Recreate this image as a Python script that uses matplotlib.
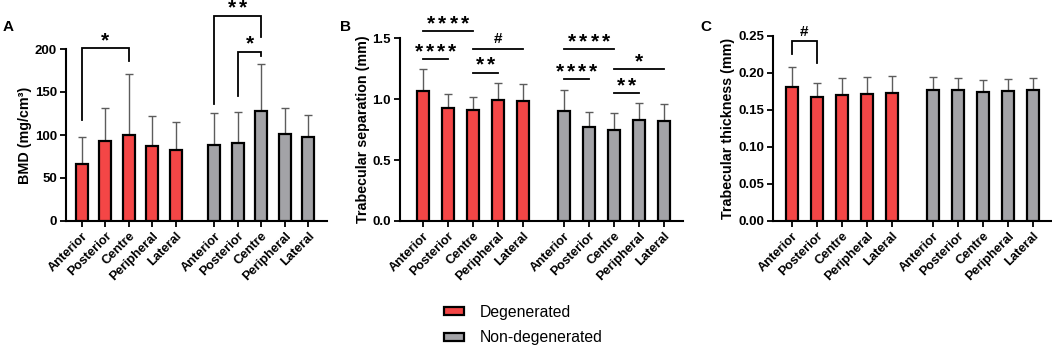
import numpy as np
import matplotlib
matplotlib.use("Agg")
import matplotlib.pyplot as plt
from matplotlib.patches import Patch

plt.rcParams['font.family'] = ['Liberation Sans', 'DejaVu Sans']

# ---------------- data ----------------
regions = ['Anterior', 'Posterior', 'Centre', 'Peripheral', 'Lateral']
groups = ['Degenerated', 'Non-degenerated']

bmd_deg = [66.5, 92.5, 100.0, 87.0, 83.0]
bmd_deg_sd = [31.5, 39.0, 71.0, 35.0, 32.5]
bmd_non = [88.0, 91.0, 128.0, 101.5, 97.5]
bmd_non_sd = [38.0, 35.5, 55.0, 29.5, 26.0]

tbsp_deg = [1.071, 0.928, 0.911, 0.994, 0.983]
tbsp_deg_sd = [0.173, 0.118, 0.105, 0.143, 0.140]
tbsp_non = [0.906, 0.768, 0.751, 0.826, 0.817]
tbsp_non_sd = [0.173, 0.124, 0.135, 0.143, 0.141]

tbth_deg = [0.1808, 0.1676, 0.1700, 0.1720, 0.1735]
tbth_deg_sd = [0.0278, 0.0186, 0.0226, 0.0224, 0.0223]
tbth_non = [0.1776, 0.1776, 0.1740, 0.1760, 0.1770]
tbth_non_sd = [0.0168, 0.0154, 0.0160, 0.0157, 0.0156]

# significance: (group, i, j, y_top, y_left_leg, y_right_leg, label)
sig_bmd = [(0, 0, 2, 200.8, 117.7, 186.0, '*'),
           (1, 0, 2, 238.8, 136.0, 213.6, '**'),
           (1, 1, 2, 197.0, 145.0, 191.5, '*')]
# (group, i, j, y, label) horizontal lines
sig_tbsp = [(0, 0, 2, 1.561, '****'),
            (0, 0, 1, 1.327, '****'),
            (0, 2, 4, 1.412, '#'),
            (0, 2, 3, 1.217, '**'),
            (1, 0, 2, 1.409, '****'),
            (1, 0, 1, 1.167, '****'),
            (1, 2, 4, 1.247, '*'),
            (1, 2, 3, 1.049, '**')]
sig_tbth = [(0, 0, 1, 0.2427, 0.2263, 0.2136, '#')]

# ---------------- style ----------------
RED = '#F44646'
GRAY = '#A3A3A7'
ERR = '#5c5c5c'
GAP = 5.64
W = 0.51
LW = 1.6
STAR_FS = 15
STAR_SP = 8.0   # points between star centres
STAR_OFF = -1.5

pos = [np.arange(5) + 0.0, np.arange(5) + GAP]

fig = plt.figure(figsize=(10.52, 3.49), dpi=100)
FW, FH = 1052.0, 349.0

def make_ax(left_px, right_px, top_px, bottom_px=221.0):
    return fig.add_axes([left_px / FW, 1 - bottom_px / FH,
                         (right_px - left_px) / FW, (bottom_px - top_px) / FH])

axA = make_ax(66, 327, 49)
axB = make_ax(400, 683, 38.3)
axC = make_ax(773, 1051, 36)

def draw_bars(ax, deg, deg_sd, non, non_sd):
    for p, vals, sd, col in [(pos[0], deg, deg_sd, RED), (pos[1], non, non_sd, GRAY)]:
        vals = np.asarray(vals); sd = np.asarray(sd)
        ax.errorbar(p, vals, yerr=[np.zeros_like(sd), sd], fmt='none',
                    ecolor=ERR, elinewidth=1.0, capsize=3.0, capthick=1.0, zorder=2)
        ax.bar(p, vals, width=W, color=col, edgecolor='black', linewidth=LW, zorder=3)

def style(ax, ylim, yticks, fmt, ylabel, xlim):
    ax.set_xlim(*xlim)
    ax.set_ylim(*ylim)
    ax.set_yticks(yticks)
    ax.set_yticklabels([fmt.format(t) for t in yticks], fontsize=9.5, fontweight='bold')
    ax.set_xticks(np.concatenate(pos))
    ax.set_xticklabels(regions + regions, rotation=45, ha='right',
                       rotation_mode='anchor', fontsize=9.3, fontweight='bold')
    for s in ['top', 'right']:
        ax.spines[s].set_visible(False)
    for s in ['left', 'bottom']:
        ax.spines[s].set_linewidth(1.5)
    ax.tick_params(axis='both', direction='out', length=4.5, width=1.3, pad=2)
    ax.set_ylabel(ylabel, fontsize=10.3, fontweight='bold', labelpad=2)

def label_at(ax, xm, y, label):
    if label.startswith('*'):
        n = len(label)
        for k in range(n):
            dx = (k - (n - 1) / 2) * STAR_SP
            ax.annotate('*', xy=(xm, y), xytext=(dx, STAR_OFF), textcoords='offset points',
                        ha='center', va='bottom', fontsize=STAR_FS, fontweight='bold',
                        annotation_clip=False)
    else:
        ax.annotate(label, xy=(xm, y), xytext=(0, 2), textcoords='offset points',
                    ha='center', va='bottom', fontsize=11, fontweight='bold',
                    annotation_clip=False)

def bracket(ax, g, i, j, yt, yl, yr, label):
    x1, x2 = pos[g][i], pos[g][j]
    ax.plot([x1, x1, x2, x2], [yl, yt, yt, yr], color='black', lw=1.3,
            clip_on=False, zorder=4, solid_joinstyle='miter')
    label_at(ax, (x1 + x2) / 2, yt, label)

def hline(ax, g, i, j, y, label):
    x1, x2 = pos[g][i], pos[g][j]
    ax.plot([x1, x2], [y, y], color='black', lw=1.3, clip_on=False, zorder=4)
    label_at(ax, (x1 + x2) / 2, y, label)

draw_bars(axA, bmd_deg, bmd_deg_sd, bmd_non, bmd_non_sd)
style(axA, (0, 200), [0, 50, 100, 150, 200], '{:.0f}', 'BMD (mg/cm³)', (-0.67, 10.44))
for s in sig_bmd:
    bracket(axA, *s)

draw_bars(axB, tbsp_deg, tbsp_deg_sd, tbsp_non, tbsp_non_sd)
style(axB, (0, 1.5), [0, 0.5, 1.0, 1.5], '{:.1f}', 'Trabecular separation (mm)', (-0.92, 10.4))
for s in sig_tbsp:
    hline(axB, *s)

draw_bars(axC, tbth_deg, tbth_deg_sd, tbth_non, tbth_non_sd)
style(axC, (0, 0.25), [0, 0.05, 0.10, 0.15, 0.20, 0.25], '{:.2f}',
      'Trabecular thickness (mm)', (-0.76, 10.36))
for s in sig_tbth:
    bracket(axC, *s)

# panel letters
for x, lab in [(3, 'A'), (340, 'B'), (700, 'C')]:
    fig.text(x / FW, 1 - 27 / FH, lab, fontsize=11, fontweight='bold', va='center', ha='left')

handles = [Patch(facecolor=RED, edgecolor='black', linewidth=LW),
           Patch(facecolor=GRAY, edgecolor='black', linewidth=LW)]
fig.legend(handles, groups, loc='center left', bbox_to_anchor=(444 / FW, 1 - 325 / FH),
           frameon=False, fontsize=11.3, handlelength=1.25, handleheight=0.42,
           handletextpad=1.0, labelspacing=0.7, borderpad=0, borderaxespad=0)

fig.savefig('out.png', dpi=100)
